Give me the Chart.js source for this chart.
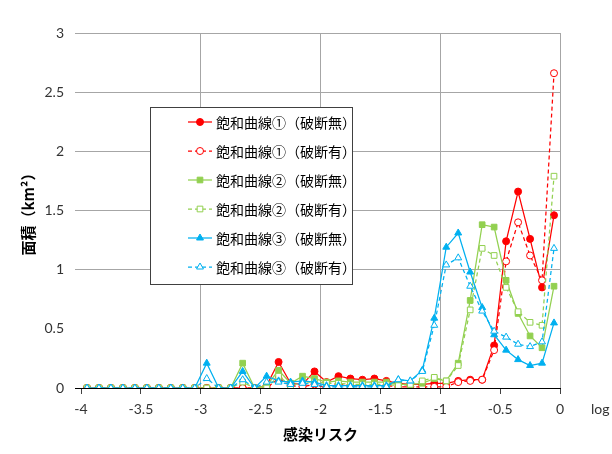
<!DOCTYPE html>
<html>
<head>
<meta charset="utf-8">
<script src="https://cdn.jsdelivr.net/npm/chart.js@4/dist/chart.umd.min.js"></script>
<style>
  html, body { margin: 0; padding: 0; background: #fff; }
</style>
</head>
<body>
<canvas id="chart" width="612" height="454"></canvas>
<script>
// log10(感染リスク) の階級中央値
const riskLog = [-3.95, -3.85, -3.75, -3.65, -3.55, -3.45, -3.35, -3.25, -3.15, -3.05,
                 -2.95, -2.85, -2.75, -2.65, -2.55, -2.45, -2.35, -2.25, -2.15, -2.05,
                 -1.95, -1.85, -1.75, -1.65, -1.55, -1.45, -1.35, -1.25, -1.15, -1.05,
                 -0.95, -0.85, -0.75, -0.65, -0.55, -0.45, -0.35, -0.25, -0.15, -0.05];

// 面積 (km2)
const curve1NoBreak = [0, 0, 0, 0, 0, 0, 0, 0, 0, 0,
                       0, 0, 0, 0, 0, 0.02, 0.22, 0.04, 0.03, 0.14,
                       0.05, 0.10, 0.08, 0.07, 0.08, 0.06, 0.04, 0.03, 0.03, 0.04,
                       0.04, 0.06, 0.07, 0.07, 0.36, 1.24, 1.66, 1.26, 0.85, 1.46];
const curve1Break = [0, 0, 0, 0, 0, 0, 0, 0, 0, 0,
                     0, 0, 0, 0, 0, 0, 0.08, 0.02, 0.01, 0.03,
                     0, 0.03, 0.02, 0.02, 0.02, 0.02, 0.01, 0.01, 0.01, 0.01,
                     0.01, 0.05, 0.06, 0.07, 0.32, 1.07, 1.40, 1.12, 0.91, 2.66];
const curve2NoBreak = [0, 0, 0, 0, 0, 0, 0, 0, 0, 0,
                       0, 0, 0, 0.21, 0, 0.02, 0.15, 0.04, 0.10, 0.08,
                       0.05, 0.06, 0.05, 0.05, 0.05, 0.05, 0.03, 0.03, 0.04, 0.08,
                       0.06, 0.21, 0.74, 1.38, 1.36, 0.91, 0.63, 0.44, 0.34, 0.86];
const curve2Break = [0, 0, 0, 0, 0, 0, 0, 0, 0, 0,
                     0, 0, 0, 0.05, 0, 0, 0.10, 0.02, 0.05, 0.05,
                     0.04, 0.04, 0.03, 0.03, 0.03, 0.03, 0.02, 0.03, 0.06, 0.09,
                     0.06, 0.19, 0.66, 1.18, 1.12, 0.85, 0.645, 0.555, 0.53, 1.79];
const curve3NoBreak = [0, 0, 0, 0, 0, 0, 0, 0, 0, 0,
                       0.21, 0, 0, 0.14, 0, 0.10, 0.06, 0.05, 0.06, 0.05,
                       0.02, 0.02, 0.02, 0.02, 0.02, 0.02, 0.07, 0.06, 0.15, 0.59,
                       1.19, 1.31, 0.98, 0.68, 0.45, 0.32, 0.24, 0.19, 0.21, 0.55];
const curve3Break = [0, 0, 0, 0, 0, 0, 0, 0, 0, 0,
                     0.08, 0, 0, 0.07, 0, 0.05, 0.05, 0.03, 0.04, 0.03,
                     0.01, 0.01, 0.01, 0.01, 0.01, 0.01, 0.07, 0.06, 0.14, 0.53,
                     1.04, 1.10, 0.86, 0.65, 0.48, 0.43, 0.37, 0.35, 0.39, 1.18];

const yTicks = [0, 0.5, 1, 1.5, 2, 2.5, 3];

const RED = '#ff0000', GREEN = '#92d050', CYAN = '#00b0f0';
const GRID = '#a6a6a6';

function toPoints(values) {
  return values.map((v, i) => ({ x: riskLog[i], y: v }));
}

function series(label, values, color, style, open, order) {
  return {
    label: label,
    data: toPoints(values),
    borderColor: color,
    backgroundColor: color,
    borderWidth: 1.25,
    borderDash: open ? [4, 3] : [],
    pointStyle: style,
    pointRadius: style === 'circle' ? 3.5 : 4,
    pointBackgroundColor: open ? '#ffffff' : color,
    pointBorderColor: color,
    pointBorderWidth: 1,
    tension: 0,
    order: order
  };
}

const isInt = v => Math.abs(v - Math.round(v)) < 1e-6;
const fmt = v => String(Number(v.toFixed(1)));

// 枠付きの凡例と軸端の "log"
const boxLegend = {
  id: 'boxLegend',
  afterDraw(chart) {
    const ctx = chart.ctx;
    ctx.save();
    ctx.fillStyle = '#ffffff';
    ctx.fillRect(150, 107, 202, 177);
    ctx.strokeStyle = '#404040';
    ctx.lineWidth = 1;
    ctx.strokeRect(150.5, 107.5, 202, 177);

    chart.data.datasets.forEach((ds, i) => {
      const y = 122 + i * 29;
      ctx.strokeStyle = ds.borderColor;
      ctx.lineWidth = ds.borderWidth;
      ctx.setLineDash(ds.borderDash);
      ctx.beginPath();
      ctx.moveTo(188, y);
      ctx.lineTo(212, y);
      ctx.stroke();
      ctx.setLineDash([]);
      ctx.fillStyle = ds.pointBackgroundColor;
      ctx.strokeStyle = ds.pointBorderColor;
      ctx.lineWidth = 1;
      Chart.helpers.drawPoint(ctx, { pointStyle: ds.pointStyle, radius: ds.pointRadius, borderWidth: 1, rotation: 0 }, 200, y);

      ctx.fillStyle = '#000000';
      ctx.font = '14px "Noto Sans CJK JP"';
      ctx.textAlign = 'left';
      ctx.textBaseline = 'middle';
      ctx.fillText(ds.label, 216, y + 1);
    });

    ctx.fillStyle = '#333333';
    ctx.font = '14px Lato';
    ctx.textAlign = 'left';
    ctx.textBaseline = 'top';
    ctx.fillText('log', 591, 402);
    ctx.restore();
  }
};

const data = {
  datasets: [
    series('飽和曲線①（破断無）', curve1NoBreak, RED, 'circle', false, 6),
    series('飽和曲線①（破断有）', curve1Break, RED, 'circle', true, 5),
    series('飽和曲線②（破断無）', curve2NoBreak, GREEN, 'rect', false, 4),
    series('飽和曲線②（破断有）', curve2Break, GREEN, 'rect', true, 3),
    series('飽和曲線③（破断無）', curve3NoBreak, CYAN, 'triangle', false, 2),
    series('飽和曲線③（破断有）', curve3Break, CYAN, 'triangle', true, 1)
  ]
};

const config = {
  type: 'line',
  data: data,
  options: {
    responsive: false,
    animation: false,
    layout: { padding: { top: 33, right: 52, left: 0, bottom: 0 } },
    plugins: {
      legend: { display: false },
      tooltip: { enabled: false }
    },
    scales: {
      x: {
        type: 'linear',
        min: -4,
        max: 0,
        afterFit: s => { s.height = 66; },
        ticks: {
          stepSize: 0.5,
          padding: 7,
          color: '#333333',
          font: { family: 'Lato', size: 14 },
          callback: v => fmt(v)
        },
        grid: {
          color: c => (isInt(c.tick.value) && c.tick.value > -4) ? GRID : 'rgba(0,0,0,0)',
          tickColor: '#404040',
          tickLength: 6
        },
        border: { display: true, color: '#000000', width: 1 },
        title: {
          display: true,
          text: '感染リスク',
          color: '#000000',
          font: { family: '"Noto Sans CJK JP"', size: 15, weight: 'bold' },
          padding: { top: 0, bottom: 11 }
        }
      },
      y: {
        min: 0,
        max: 3,
        afterFit: s => { s.width = 81; },
        afterBuildTicks: s => { s.ticks = yTicks.map(v => ({ value: v })); },
        ticks: {
          padding: 11,
          color: '#333333',
          font: { family: 'Lato', size: 14 },
          callback: v => fmt(v)
        },
        grid: {
          color: c => (c.tick.value >= 1) ? GRID : 'rgba(0,0,0,0)',
          tickColor: c => c.tick.value === 0 ? '#000000' : (c.tick.value >= 1 ? GRID : 'rgba(0,0,0,0)'),
          tickLength: 6
        },
        border: { display: false },
        title: {
          display: true,
          text: '面積（km²）',
          color: '#000000',
          font: { family: '"Noto Sans CJK JP"', size: 15, weight: 'bold' },
          padding: { top: 19, bottom: 0 }
        }
      }
    }
  },
  plugins: [boxLegend]
};

const ctx = document.getElementById('chart').getContext('2d');
const myChart = new Chart(ctx, config);
</script>
</body>
</html>
